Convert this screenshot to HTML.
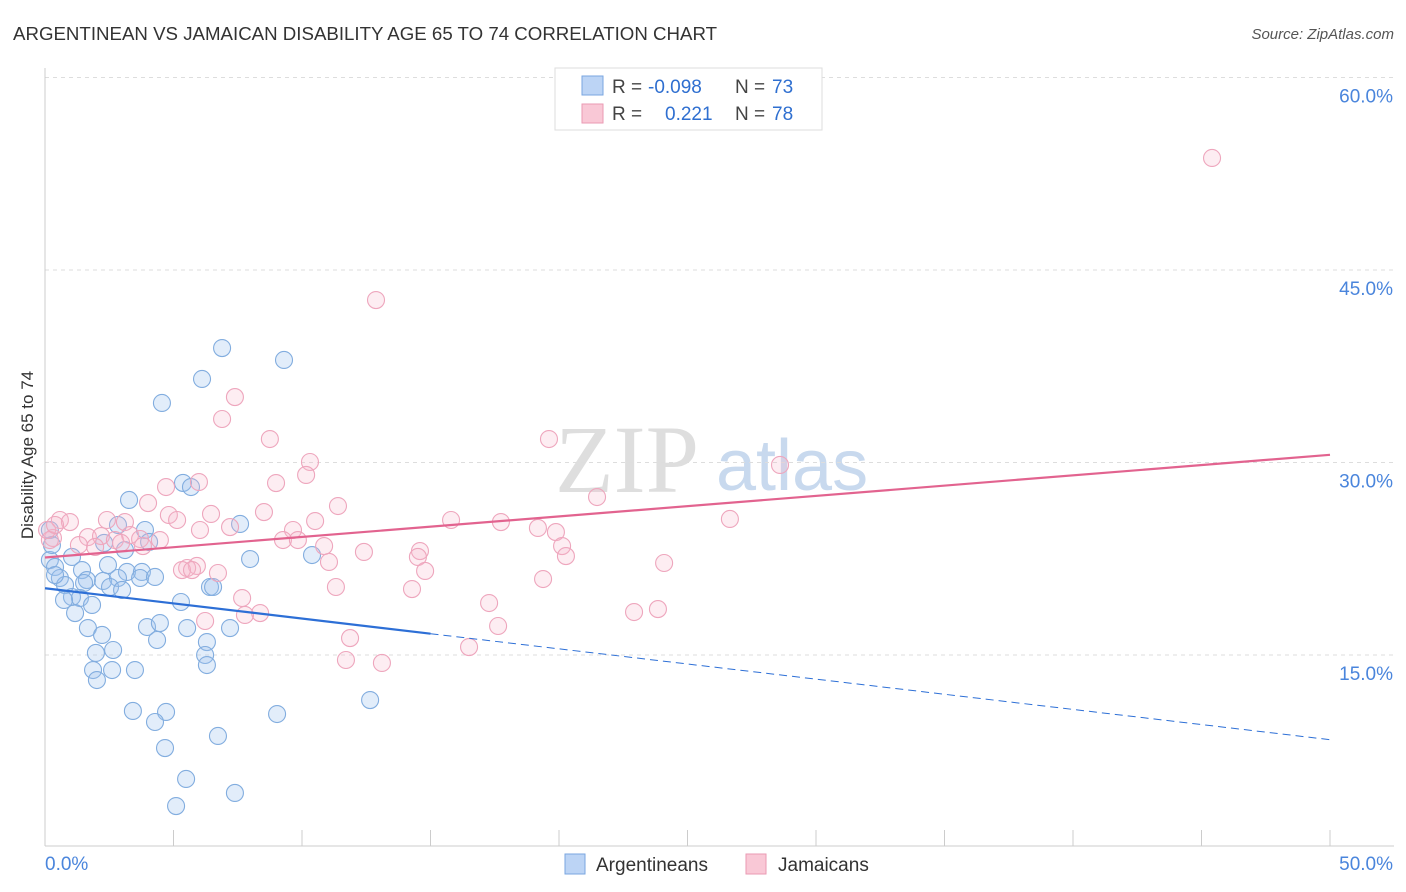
<!DOCTYPE html>
<html><head><meta charset="utf-8"><style>
body{margin:0;background:#fff;font-family:"Liberation Sans",sans-serif;}
svg{display:block}
</style></head><body>
<svg id="chart" width="1406" height="892" xmlns="http://www.w3.org/2000/svg">
<text x="13" y="40" font-size="18" fill="#333" textLength="704" lengthAdjust="spacingAndGlyphs">ARGENTINEAN VS JAMAICAN DISABILITY AGE 65 TO 74 CORRELATION CHART</text>
<text x="1394" y="39" font-size="15" fill="#555" font-style="italic" text-anchor="end">Source: ZipAtlas.com</text>
<g>
<text x="555" y="492" font-family="Liberation Serif,serif" font-size="96" fill="#dedede">ZIP</text>
<text x="716" y="490" font-size="72" fill="#c8d9ee">atlas</text>
</g>
<g id="grid"></g>
<g id="axes"></g>
<g id="pts"></g>
<g id="trend"></g>
<text transform="translate(33,455) rotate(-90)" font-size="17" fill="#333" text-anchor="middle">Disability Age 65 to 74</text>
<g>
<rect x="555" y="68" width="267" height="62" fill="#fff" stroke="#ddd"/>
<rect x="582" y="76" width="21" height="19" fill="#bcd4f5" stroke="#7aa6e0"/>
<rect x="582" y="104" width="21" height="19" fill="#f9c8d6" stroke="#ea9ab3"/>
<text x="612" y="93" font-size="19" fill="#444">R =</text>
<text x="648" y="93" font-size="19" fill="#2f6fd0">-0.098</text>
<text x="735" y="93" font-size="19" fill="#444">N =</text>
<text x="772" y="93" font-size="19" fill="#2f6fd0">73</text>
<text x="612" y="120" font-size="19" fill="#444">R =</text>
<text x="665" y="120" font-size="19" fill="#2f6fd0">0.221</text>
<text x="735" y="120" font-size="19" fill="#444">N =</text>
<text x="772" y="120" font-size="19" fill="#2f6fd0">78</text>
</g>
<g>
<rect x="565" y="854" width="20" height="20" fill="#bcd4f5" stroke="#7aa6e0"/>
<text x="596" y="871" font-size="19" fill="#333">Argentineans</text>
<rect x="746" y="854" width="20" height="20" fill="#f9c8d6" stroke="#ea9ab3"/>
<text x="778" y="871" font-size="19" fill="#333">Jamaicans</text>
</g>
</svg>
<script>
const blueX=[6.89,9.30,6.11,4.55,5.37,5.68,3.27,7.59,2.84,3.89,4.05,2.30,3.11,7.98,10.39,1.05,0.19,2.45,0.39,1.44,3.19,3.77,0.58,1.63,2.26,2.84,3.70,4.28,0.78,1.52,2.53,3.00,6.42,6.54,1.05,1.36,0.74,1.83,5.29,1.17,3.97,4.47,7.20,1.67,5.53,6.30,2.22,4.36,2.65,1.98,6.23,6.30,1.87,3.50,2.61,2.02,12.65,3.42,4.71,4.28,9.03,6.73,4.67,5.49,7.39,5.10,0.19,0.27,0.39];
const blueY=[38.92,37.99,36.51,34.64,28.41,28.09,27.08,25.21,25.13,24.74,23.81,23.73,23.18,22.48,22.79,22.64,22.40,22.01,21.86,21.62,21.47,21.47,21.00,20.84,20.77,21.00,21.00,21.08,20.45,20.61,20.30,20.07,20.30,20.30,19.52,19.44,19.29,18.90,19.13,18.27,17.18,17.49,17.10,17.10,17.10,16.01,16.56,16.17,15.39,15.16,15.00,14.22,13.83,13.83,13.83,13.05,11.49,10.64,10.56,9.78,10.40,8.69,7.75,5.34,4.25,3.23,24.74,23.57,21.23];
const pinkX=[45.41,12.88,7.39,6.89,19.61,8.75,28.60,10.31,10.16,5.99,8.99,4.71,21.48,4.01,11.40,6.46,8.52,4.82,5.14,0.58,0.97,2.41,3.11,10.51,15.80,17.74,26.65,19.18,7.20,1.67,3.31,6.03,9.65,2.18,2.72,3.70,4.47,0.31,19.88,9.26,9.84,10.86,20.12,1.32,1.95,2.96,3.81,12.41,14.59,14.51,20.27,11.05,24.09,5.91,5.53,5.33,5.72,6.73,14.79,19.38,7.67,14.28,8.37,11.32,17.28,22.92,23.85,7.78,6.23,17.63,11.87,16.50,11.71,13.11,0.19,0.08,0.39];
const pinkY=[53.73,42.66,35.10,33.39,31.83,31.83,29.81,30.04,29.03,28.48,28.40,28.09,27.31,26.84,26.61,25.99,26.14,25.91,25.52,25.52,25.36,25.52,25.36,25.44,25.52,25.36,25.60,24.90,24.97,24.19,24.35,24.74,24.74,24.27,23.96,24.04,23.96,24.12,24.58,23.96,23.96,23.49,23.49,23.57,23.42,23.73,23.49,23.03,23.10,22.64,22.71,22.25,22.17,21.94,21.78,21.62,21.62,21.39,21.55,20.92,19.44,20.14,18.27,20.30,19.05,18.35,18.58,18.12,17.65,17.26,16.32,15.62,14.61,14.38,23.96,24.74,25.13];
const yTicks=[15,30,45,60];
const yTickLabels=["15.0%","30.0%","45.0%","60.0%"];
const xTicks=[0,5,10,15,20,25,30,35,40,45,50];
const blueTrend=[20.2,8.4];const blueSolidEnd=15;
const pinkTrend=[22.6,30.6];
const NS="http://www.w3.org/2000/svg";
const sx=v=>45+v*25.7;
const sy=v=>847.5-v*12.833;
function mk(tag,attrs,parent){const e=document.createElementNS(NS,tag);for(const k in attrs)e.setAttribute(k,attrs[k]);parent.appendChild(e);return e;}
const grid=document.getElementById('grid'),axes=document.getElementById('axes');
yTicks.forEach((t,i)=>{
 const l=mk('line',{x1:45,x2:1394,y1:sy(t),y2:sy(t),stroke:'#ddd','stroke-dasharray':'4,4'},grid);
 
 
 const tx=mk('text',{x:1393,y:sy(t)+25,'font-size':19,fill:'#4a85dc','text-anchor':'end'},axes);
 tx.textContent=yTickLabels[i];
 
 
});
mk('line',{x1:45,x2:1394,y1:846,y2:846,stroke:'#ccc'},axes);
mk('line',{x1:45,x2:45,y1:68,y2:846,stroke:'#ccc'},axes);
xTicks.forEach(t=>{const l=mk('line',{x1:sx(t),x2:sx(t),y1:846,y2:830,stroke:'#ccc'},axes);
 
 });
const x0=mk('text',{x:45,y:870,'font-size':19,fill:'#4a85dc'},axes);x0.textContent=xTicks[0].toFixed(1)+'%';


const x1=mk('text',{x:1393,y:870,'font-size':19,fill:'#4a85dc','text-anchor':'end'},axes);x1.textContent=xTicks[xTicks.length-1].toFixed(1)+'%';


const pts=document.getElementById('pts');
blueX.forEach((x,i)=>{const c=mk('circle',{cx:sx(x),cy:sy(blueY[i]),r:8.5,fill:'rgba(160,196,240,0.3)',stroke:'#82addf','stroke-width':1.1},pts);
 
 });
pinkX.forEach((x,i)=>{const c=mk('circle',{cx:sx(x),cy:sy(pinkY[i]),r:8.5,fill:'rgba(246,185,205,0.25)',stroke:'#eea6bd','stroke-width':1.1},pts);
 
 });
const tr=document.getElementById('trend');
const bAt=x=>blueTrend[0]+(blueTrend[1]-blueTrend[0])*x/50;
const b1=mk('line',{x1:sx(0),y1:sy(blueTrend[0]),x2:sx(blueSolidEnd),y2:sy(bAt(blueSolidEnd)),stroke:'#2d6fd6','stroke-width':2.2},tr);


const b2=mk('line',{x1:sx(blueSolidEnd),y1:sy(bAt(blueSolidEnd)),x2:sx(50),y2:sy(blueTrend[1]),stroke:'#2d6fd6','stroke-width':1,'stroke-dasharray':'8,5'},tr);


const p1=mk('line',{x1:sx(0),y1:sy(pinkTrend[0]),x2:sx(50),y2:sy(pinkTrend[1]),stroke:'#e2638f','stroke-width':2.2},tr);


</script>
</body></html>
